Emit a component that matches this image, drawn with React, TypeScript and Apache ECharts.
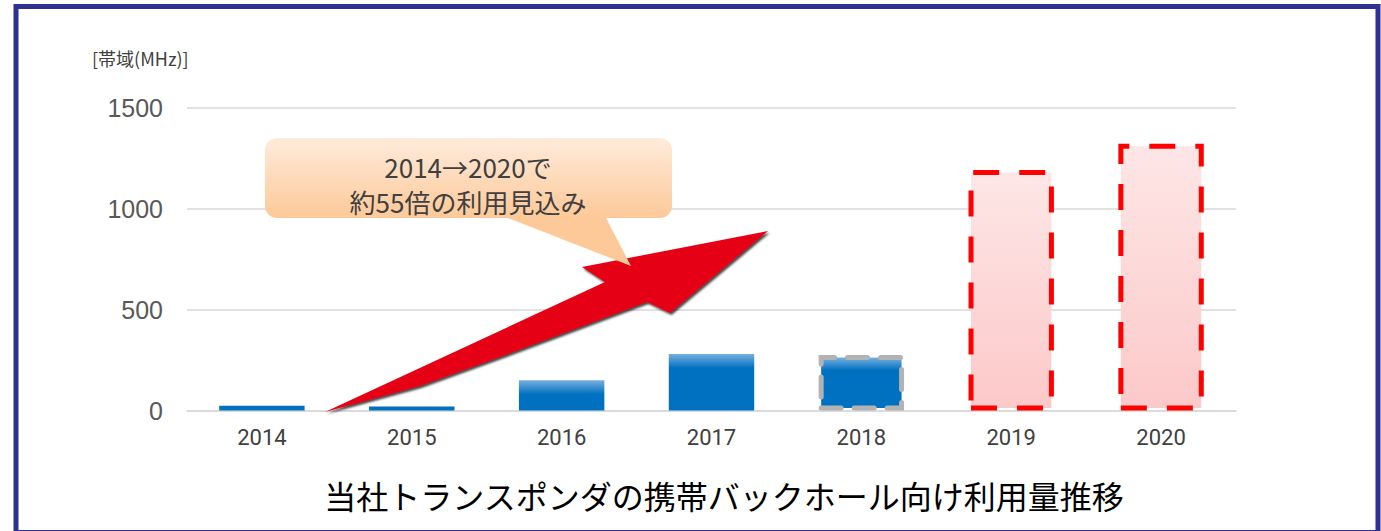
import React, { useEffect, useRef } from "react";
import * as echarts from "echarts";

const categories = ["2014", "2015", "2016", "2017", "2018", "2019", "2020"];
const bandwidthValues = [24, 20, 150, 280, 275, 1190, 1320];
const barKinds = ["actual", "actual", "actual", "actual", "estimate", "forecast", "forecast"];
const yTicks = { min: 0, max: 1500, interval: 500 };
const yAxisName = "[帯域(MHz)]";
const chartTitle = "当社トランスポンダの携帯バックホール向け利用量推移";
const calloutLines = ["2014→2020で", "約55倍の利用見込み"];

const JP = '"Noto Sans CJK JP", "Noto Sans", sans-serif';

function blueFill(v: number) {
  const s = Math.min(0.9, 70 / Math.max(v, 1));
  if (v < 40) return "#0070c0";
  return {
    type: "linear",
    x: 0, y: 0, x2: 0, y2: 1,
    colorStops: [
      { offset: 0, color: "#78b0de" },
      { offset: s, color: "#0070c0" },
      { offset: 1, color: "#0070c0" },
    ],
  };
}

const pinkFill = {
  type: "linear",
  x: 0, y: 0, x2: 0, y2: 1,
  colorStops: [
    { offset: 0, color: "#fee6e6" },
    { offset: 1, color: "#fcc9c9" },
  ],
};

export default function App() {
  const ref = useRef<HTMLDivElement>(null);
  useEffect(() => {
    if (!ref.current) return;
    const chart = echarts.init(ref.current, null, { renderer: "svg" });
    const data = bandwidthValues.map((v, i) => {
      const kind = barKinds[i];
      if (kind === "forecast") {
        return {
          value: v,
          itemStyle: {
            color: pinkFill,
            borderColor: "#ff0000",
            borderWidth: 5,
            borderType: [26, 20],
          },
        };
      }
      if (kind === "estimate") {
        return {
          value: v,
          itemStyle: {
            color: blueFill(v),
            borderColor: "#b3b3b3",
            borderWidth: 5,
            borderType: [20, 13],
            borderCap: "round",
          },
        };
      }
      return { value: v, itemStyle: { color: blueFill(v) } };
    });

    chart.setOption({
      animation: false,
      backgroundColor: "#ffffff",
      title: {
        text: chartTitle,
        left: 719,
        textAlign: "center",
        top: 474,
        textStyle: { fontFamily: JP, fontSize: 32, fontWeight: "normal", color: "#000000" },
      },
      grid: { left: 187, right: 145, top: 107.5, bottom: 120.5, containLabel: false },
      xAxis: {
        type: "category",
        data: categories,
        axisTick: { show: false },
        axisLine: { show: true, lineStyle: { color: "#d9d9d9", width: 1.5 } },
        axisLabel: { margin: 16, fontSize: 22, color: "#404040", fontFamily: "Roboto, sans-serif" },
      },
      yAxis: {
        type: "value",
        min: yTicks.min,
        max: yTicks.max,
        interval: yTicks.interval,
        axisLine: { show: false },
        axisTick: { show: false },
        splitLine: { lineStyle: { color: "#d9d9d9", width: 1.5 } },
        axisLabel: {
          margin: 24,
          fontSize: 25,
          color: "#595959",
          fontFamily: '"Liberation Sans", Arial, sans-serif',
          formatter: (v: number) => String(v),
        },
      },
      series: [
        {
          type: "bar",
          data,
          barWidth: "57%",
        },
      ],
      graphic: [
        {
          type: "text",
          x: 92,
          y: 58,
          style: {
            text: yAxisName,
            fill: "#404040",
            fontSize: 18,
            fontFamily: JP,
            textAlign: "left",
            textVerticalAlign: "middle",
          },
        },
        {
          type: "polygon",
          z: 50,
          shape: {
            points: [
              [325, 412], [605, 282], [582, 267], [768, 231], [670, 313], [647, 302],
              [575, 329], [500, 357], [420, 386],
            ],
          },
          style: {
            fill: "#e60012",
            shadowColor: "rgba(0,0,0,0.75)",
            shadowBlur: 2,
            shadowOffsetX: 1.5,
            shadowOffsetY: 2,
          },
        },
        {
          type: "polygon",
          z: 60,
          shape: { points: [[503, 216], [605, 216], [631, 266]] },
          style: { fill: "#fdc998" },
        },
        {
          type: "rect",
          z: 60,
          shape: { x: 265, y: 138, width: 407, height: 80, r: 12 },
          style: {
            fill: {
              type: "linear",
              x: 0, y: 0, x2: 0, y2: 1,
              colorStops: [
                { offset: 0, color: "#feebdc" },
                { offset: 1, color: "#fdc998" },
              ],
            },
          },
        },
        {
          type: "text",
          z: 61,
          x: 468,
          y: 166,
          style: {
            text: calloutLines[0],
            fill: "#404040",
            fontSize: 26,
            fontFamily: JP,
            textAlign: "center",
            textVerticalAlign: "middle",
          },
        },
        {
          type: "text",
          z: 61,
          x: 468,
          y: 201,
          style: {
            text: calloutLines[1],
            fill: "#404040",
            fontSize: 26,
            fontFamily: JP,
            textAlign: "center",
            textVerticalAlign: "middle",
          },
        },
        {
          type: "rect",
          z: 100,
          shape: { x: 16, y: 6.5, width: 1362, height: 526 },
          style: { fill: "none", stroke: "#2e3192", lineWidth: 5 },
        },
      ],
    });
    return () => chart.dispose();
  }, []);
  return (
    <div
      ref={ref}
      style={{ position: "absolute", left: 0, top: 0, width: 1381, height: 531, background: "#fff" }}
    />
  );
}
